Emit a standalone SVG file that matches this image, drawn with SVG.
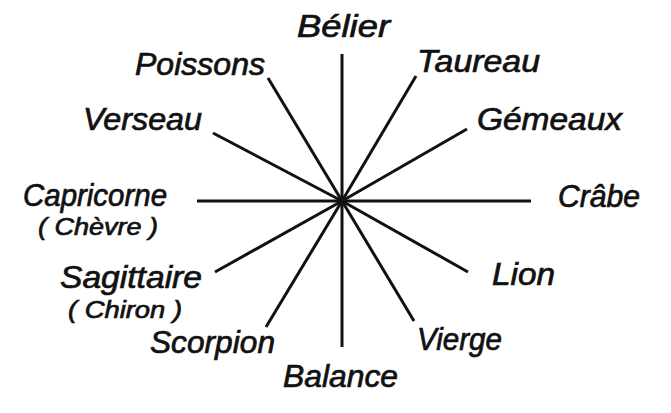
<svg xmlns="http://www.w3.org/2000/svg" width="671" height="413" viewBox="0 0 671 413">
<style>
.lbl{font-family:"Liberation Sans",Arial,sans-serif;font-style:italic;font-size:31px;fill:#111;stroke:#111;stroke-width:0.7}
.sub{font-size:24px}
.ray{stroke:#111;stroke-width:3;stroke-linecap:butt;fill:none}
</style>
<rect width="671" height="413" fill="#fff"/>
<g id="connectors">
<line class="ray" x1="342" y1="201" x2="342" y2="54"/>
<line class="ray" x1="342" y1="201" x2="416" y2="76"/>
<line class="ray" x1="342" y1="201" x2="467" y2="129"/>
<line class="ray" x1="342" y1="201" x2="531" y2="201"/>
<line class="ray" x1="342" y1="201" x2="468" y2="272"/>
<line class="ray" x1="342" y1="201" x2="414" y2="321"/>
<line class="ray" x1="342" y1="201" x2="342" y2="347"/>
<line class="ray" x1="342" y1="201" x2="266" y2="327"/>
<line class="ray" x1="342" y1="201" x2="215" y2="272"/>
<line class="ray" x1="342" y1="201" x2="197" y2="201"/>
<line class="ray" x1="342" y1="201" x2="213" y2="133"/>
<line class="ray" x1="342" y1="201" x2="268" y2="78"/>
<circle cx="342" cy="201" r="3" fill="#111"/>
</g>
<g id="belier"><text class="lbl" x="297" y="37" textLength="93" lengthAdjust="spacingAndGlyphs">Bélier</text></g>
<g id="taureau"><text class="lbl" x="417" y="72" textLength="123" lengthAdjust="spacingAndGlyphs">Taureau</text></g>
<g id="gemeaux"><text class="lbl" x="477" y="130" textLength="145" lengthAdjust="spacingAndGlyphs">Gémeaux</text></g>
<g id="crabe"><text class="lbl" x="558" y="207" textLength="82" lengthAdjust="spacingAndGlyphs">Crâbe</text></g>
<g id="lion"><text class="lbl" x="492" y="285" textLength="63" lengthAdjust="spacingAndGlyphs">Lion</text></g>
<g id="vierge"><text class="lbl" x="417" y="350" textLength="85" lengthAdjust="spacingAndGlyphs">Vierge</text></g>
<g id="balance"><text class="lbl" x="283" y="387" textLength="115" lengthAdjust="spacingAndGlyphs">Balance</text></g>
<g id="scorpion"><text class="lbl" x="150" y="353" textLength="125" lengthAdjust="spacingAndGlyphs">Scorpion</text></g>
<g id="sagittaire">
<text class="lbl" x="60" y="288" textLength="142" lengthAdjust="spacingAndGlyphs">Sagittaire</text>
<text class="lbl sub" x="68" y="318" textLength="114" lengthAdjust="spacingAndGlyphs">( Chiron )</text>
</g>
<g id="capricorne">
<text class="lbl" x="23" y="206" textLength="144" lengthAdjust="spacingAndGlyphs">Capricorne</text>
<text class="lbl sub" x="38" y="235" textLength="120" lengthAdjust="spacingAndGlyphs">( Chèvre )</text>
</g>
<g id="verseau"><text class="lbl" x="83" y="130" textLength="119" lengthAdjust="spacingAndGlyphs">Verseau</text></g>
<g id="poissons"><text class="lbl" x="135" y="75" textLength="130" lengthAdjust="spacingAndGlyphs">Poissons</text></g>
</svg>
